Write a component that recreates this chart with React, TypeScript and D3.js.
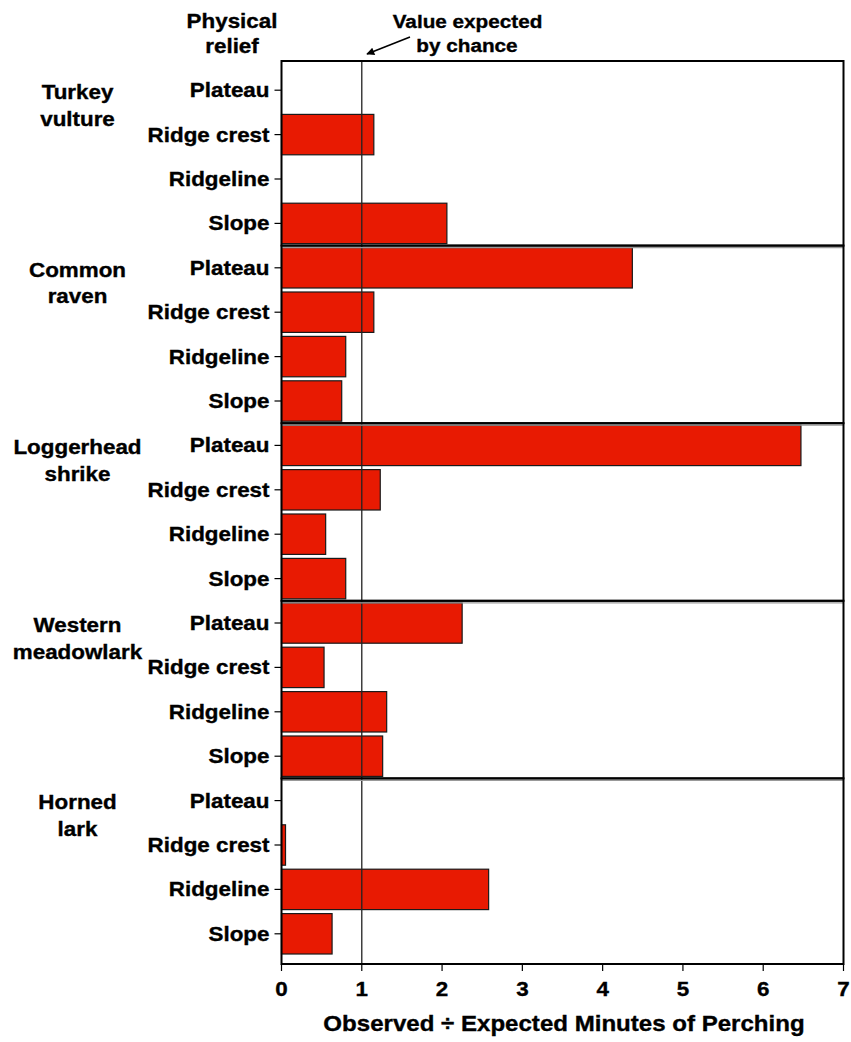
import React from "react";
import * as d3 from "d3";

const species = [
  ["Turkey", "vulture"],
  ["Common", "raven"],
  ["Loggerhead", "shrike"],
  ["Western", "meadowlark"],
  ["Horned", "lark"],
];
const reliefs = ["Plateau", "Ridge crest", "Ridgeline", "Slope"];
const turkeyVulture = [0, 1.15, 0, 2.06];
const commonRaven = [4.37, 1.15, 0.8, 0.75];
const loggerheadShrike = [6.47, 1.23, 0.55, 0.8];
const westernMeadowlark = [2.25, 0.53, 1.31, 1.26];
const hornedLark = [0, 0.05, 2.58, 0.63];
const seriesValues = [turkeyVulture, commonRaven, loggerheadShrike, westernMeadowlark, hornedLark];
const xTicks = [0, 1, 2, 3, 4, 5, 6, 7];
const chanceValue = 1;

const FONT = "'Liberation Sans', Arial, Helvetica, sans-serif";
const SX = 1.12;

function T({ x, y, children, anchor = "middle", size = 20 }: any) {
  return (
    <g transform={`translate(${x},${y}) scale(${SX},1)`}>
      <text x={0} y={0} textAnchor={anchor} fontFamily={FONT} fontWeight="bold" fontSize={size} fill="#000" stroke="#000" strokeWidth={0.35}>
        {children}
      </text>
    </g>
  );
}

export default function App() {
  const W = 851, H = 1042;
  const x = d3.scaleLinear().domain([0, 7]).range([281.5, 843.5]);
  const plotTop = 61;
  const step = 44.4;
  const padTop = 7, padBottom = 8;

  const panels: any[] = [];
  let cur = plotTop;
  species.forEach((sp, i) => {
    const top = cur;
    const bandStart = top + (i === 0 ? padTop : 0);
    const bandEnd = bandStart + reliefs.length * step;
    const bottom = bandEnd + (i === species.length - 1 ? padBottom : 0);
    const y = d3.scaleBand<string>().domain(reliefs).range([bandStart, bandEnd]).paddingInner(0.09).paddingOuter(0.045);
    panels.push({ sp, top, bottom, bandStart, y, values: seriesValues[i] });
    cur = bottom;
  });
  const plotBottom = cur;

  return (
    <svg width={W} height={H} style={{ position: "absolute", left: 0, top: 0, background: "#fff" }}>
      <defs>
        <marker id="ah" viewBox="0 0 10 10" refX="9" refY="5" markerWidth="11" markerHeight="8" orient="auto-start-reverse" markerUnits="userSpaceOnUse">
          <path d="M0,0 L10,5 L0,10 z" fill="#000" />
        </marker>
      </defs>
      <rect x={0} y={0} width={W} height={H} fill="#fff" />

      {/* header */}
      <T x={232} y={28}>Physical</T>
      <T x={232} y={53}>relief</T>
      <T x={467.5} y={27.5} size={18.5}>Value expected</T>
      <T x={467} y={51.5} size={18.5}>by chance</T>
      <line x1={410} y1={37} x2={367} y2={54} stroke="#000" strokeWidth={1.6} markerEnd="url(#ah)" />

      {panels.map((p, i) => (
        <g key={i}>
          {p.values.map((v: number, j: number) =>
            v > 0 ? (
              <rect
                key={j}
                x={x(0)}
                y={p.y(reliefs[j])}
                width={x(v) - x(0)}
                height={p.y.bandwidth()}
                fill="#E81A02"
                stroke="#1a1a1a"
                strokeWidth={1.2}
              />
            ) : null
          )}
          {reliefs.map((r) => {
            const cy = (p.y(r) as number) + p.y.bandwidth() / 2;
            return (
              <g key={r}>
                <line x1={x(0) - 7} x2={x(0)} y1={cy} y2={cy} stroke="#000" strokeWidth={1.2} />
                <T x={x(0) - 12} y={cy + 7} anchor="end">{r}</T>
              </g>
            );
          })}
          <T x={77.5} y={p.bandStart + 31}>{p.sp[0]}</T>
          <T x={77.5} y={p.bandStart + 57.7}>{p.sp[1]}</T>
        </g>
      ))}

      {/* chance line */}
      <line x1={x(chanceValue)} x2={x(chanceValue)} y1={plotTop} y2={plotBottom} stroke="#222" strokeWidth={1.3} />

      {/* panel boxes */}
      {panels.map((p, i) => (
        <g key={"b" + i}>
          {i > 0 && <line x1={x(0)} x2={x(7)} y1={p.top + 2} y2={p.top + 2} stroke="#999" strokeWidth={1.2} />}
          <rect x={x(0)} y={p.top} width={x(7) - x(0)} height={p.bottom - p.top} fill="none" stroke="#000" strokeWidth={2} />
        </g>
      ))}

      {/* x axis */}
      {xTicks.map((t) => (
        <g key={t}>
          <line x1={x(t)} x2={x(t)} y1={plotBottom} y2={plotBottom + 7} stroke="#000" strokeWidth={1.2} />
          <T x={x(t)} y={995.5}>{t}</T>
        </g>
      ))}
      <T x={564} y={1031} size={21.5}>Observed ÷ Expected Minutes of Perching</T>
    </svg>
  );
}
